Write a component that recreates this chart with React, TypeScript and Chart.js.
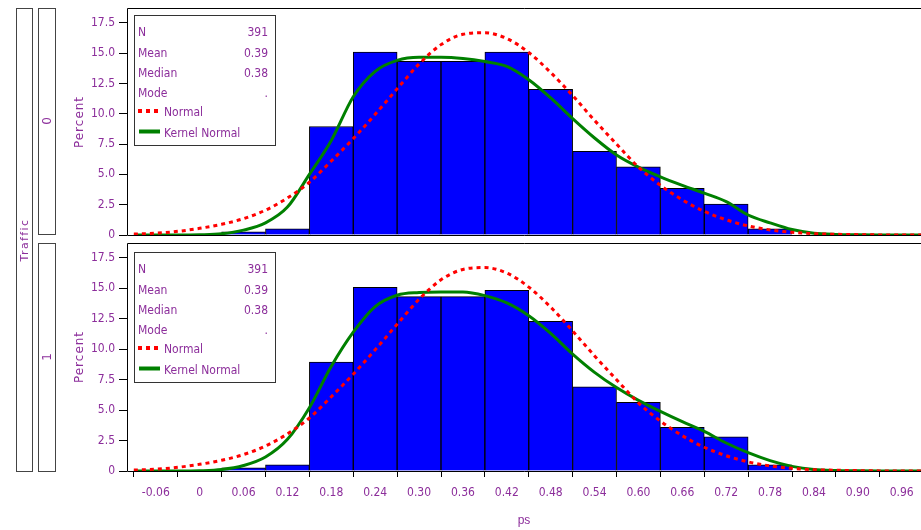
import React, { useEffect, useRef } from 'react';
import { Chart, registerables } from 'chart.js';

Chart.register(...registerables);

// ---------- data ----------
const BIN_CENTERS = [0.06, 0.12, 0.18, 0.24, 0.30, 0.36, 0.42, 0.48, 0.54, 0.60, 0.66, 0.72, 0.78];
const PCT_TRAFFIC0 = [0.26, 0.51, 8.95, 15.09, 14.32, 14.32, 15.09, 12.02, 6.91, 5.63, 3.84, 2.56, 0.51];
const PCT_TRAFFIC1 = [0.26, 0.51, 8.95, 15.09, 14.32, 14.32, 14.83, 12.28, 6.91, 5.63, 3.58, 2.81, 0.51];

const CURVE_X = [
  -0.09, -0.06, -0.03, 0, 0.03, 0.06, 0.09, 0.12, 0.15, 0.18, 0.21, 0.24, 0.27,
  0.30, 0.33, 0.36, 0.39, 0.42, 0.45, 0.48, 0.51, 0.54, 0.57, 0.60, 0.63, 0.66,
  0.69, 0.72, 0.75, 0.78, 0.81, 0.84, 0.87, 0.90, 0.93, 0.96, 0.99,
];
const NORMAL_TRAFFIC0 = [
  0.08, 0.15, 0.3, 0.55, 0.88, 1.35, 2.05, 3.05, 4.35, 6.1, 7.95, 9.95, 12.05,
  14.1, 15.7, 16.55, 16.68, 16.2, 15.05, 13.4, 11.5, 9.45, 7.5, 5.6, 4.1, 2.9,
  1.95, 1.25, 0.75, 0.42, 0.22, 0.11, 0.06, 0.03, 0.01, 0.01, 0.0,
];
const KERNEL_TRAFFIC0 = [
  0, 0, 0, 0.02, 0.1, 0.4, 1.0, 2.3, 5.0, 7.8, 11.4, 13.5, 14.4,
  14.65, 14.65, 14.55, 14.3, 13.9, 12.8, 11.3, 9.6, 8.0, 6.6, 5.6, 4.8, 4.1,
  3.45, 2.75, 1.65, 1.0, 0.45, 0.15, 0.05, 0.02, 0.01, 0.01, 0.01,
];
const NORMAL_TRAFFIC1 = [
  0.08, 0.15, 0.3, 0.55, 0.88, 1.35, 2.05, 3.05, 4.35, 6.1, 7.95, 9.95, 12.05,
  14.1, 15.7, 16.55, 16.7, 16.25, 15.1, 13.45, 11.5, 9.45, 7.5, 5.6, 4.1, 2.9,
  1.95, 1.25, 0.75, 0.42, 0.22, 0.11, 0.06, 0.03, 0.01, 0.01, 0.0,
];
const KERNEL_TRAFFIC1 = [
  0, 0, 0, 0.02, 0.12, 0.45, 1.15, 2.6, 5.2, 8.6, 11.4, 13.5, 14.43,
  14.65, 14.7, 14.7, 14.4, 13.8, 12.75, 11.3, 9.6, 8.1, 6.85, 5.8, 4.9, 4.05,
  3.25, 2.3, 1.5, 0.85, 0.38, 0.12, 0.04, 0.02, 0.01, 0.01, 0.01,
];

const X_TICKS = [-0.06, 0, 0.06, 0.12, 0.18, 0.24, 0.30, 0.36, 0.42, 0.48, 0.54, 0.60, 0.66, 0.72, 0.78, 0.84, 0.90, 0.96];
const Y_TICKS = [0, 2.5, 5.0, 7.5, 10.0, 12.5, 15.0, 17.5];
const X_MIN = -0.0994;
const X_MAX = 0.9864;
const Y_MAX = 18.72;

const STAT_LABELS = ['N', 'Mean', 'Median', 'Mode'];
const STATS_TRAFFIC0 = ['391', '0.39', '0.38', '.'];
const STATS_TRAFFIC1 = ['391', '0.39', '0.38', '.'];
const PANEL_LABELS = ['0', '1'];

// ---------- styles ----------
const PURPLE = '#8C2E9B';
const NARROW = "'Liberation Sans Narrow', 'DejaVu Sans Condensed', 'Liberation Sans', sans-serif";
const SANS = "'DejaVu Sans', 'Liberation Sans', sans-serif";

const framePlugin = {
  id: 'frame',
  beforeDatasetsDraw(chart: any) {
    const { ctx, chartArea } = chart;
    ctx.save();
    ctx.strokeStyle = '#000';
    ctx.lineWidth = 1;
    ctx.beginPath();
    ctx.moveTo(chartArea.right, Math.round(chartArea.top) + 0.5);
    ctx.lineTo(Math.round(chartArea.left) + 0.5, Math.round(chartArea.top) + 0.5);
    ctx.lineTo(Math.round(chartArea.left) + 0.5, Math.round(chartArea.bottom) + 0.5);
    ctx.lineTo(chartArea.right, Math.round(chartArea.bottom) + 0.5);
    ctx.stroke();
    ctx.restore();
  },
};

function insetPlugin(stats: string[], topOffset: number) {
  return {
    id: 'inset',
    afterDatasetsDraw(chart: any) {
      const { ctx, chartArea } = chart;
      const x0 = Math.round(chartArea.left) + 7;
      const y0 = Math.round(chartArea.top) + topOffset;
      const w = 141;
      const h = 130;
      ctx.save();
      ctx.fillStyle = '#fff';
      ctx.fillRect(x0, y0, w, h);
      ctx.strokeStyle = '#333';
      ctx.lineWidth = 1;
      ctx.strokeRect(x0 + 0.5, y0 + 0.5, w, h);
      ctx.font = `12px ${NARROW}`;
      ctx.fillStyle = PURPLE;
      ctx.textBaseline = 'middle';
      const rows = [18, 38.5, 59, 78.5, 98, 118.5];
      STAT_LABELS.forEach((lab, i) => {
        ctx.textAlign = 'left';
        ctx.fillText(lab, x0 + 4, y0 + rows[i]);
        ctx.textAlign = 'right';
        ctx.fillText(stats[i], x0 + 134, y0 + rows[i]);
      });
      ctx.strokeStyle = '#FF0000';
      ctx.lineWidth = 4;
      ctx.setLineDash([4, 4]);
      ctx.beginPath();
      ctx.moveTo(x0 + 4, y0 + rows[4] - 2);
      ctx.lineTo(x0 + 25, y0 + rows[4] - 2);
      ctx.stroke();
      ctx.setLineDash([]);
      ctx.strokeStyle = '#008000';
      ctx.beginPath();
      ctx.moveTo(x0 + 5, y0 + rows[5] - 2);
      ctx.lineTo(x0 + 26, y0 + rows[5] - 2);
      ctx.stroke();
      ctx.textAlign = 'left';
      ctx.fillText('Normal', x0 + 30, y0 + rows[4]);
      ctx.fillText('Kernel Normal', x0 + 30, y0 + rows[5]);
      ctx.restore();
    },
  };
}

function makeConfig(bars: number[], normal: number[], kernel: number[], stats: string[], isBottom: boolean): any {
  const xScale: any = {
    type: 'linear',
    min: X_MIN,
    max: X_MAX,
    offset: false,
    display: isBottom,
    grid: { display: true, drawOnChartArea: false, drawTicks: true, tickLength: 6, color: '#000' },
    border: { display: false },
    ticks: {
      color: PURPLE,
      font: { family: NARROW, size: 12 },
      padding: 9,
      maxRotation: 0,
      autoSkip: false,
      callback: (v: number) => (Math.abs(v) < 1e-9 ? '0' : v.toFixed(2)),
    },
    title: {
      display: true,
      text: 'ps',
      color: PURPLE,
      font: { family: "'Liberation Sans', Arial, sans-serif", size: 12 },
      padding: { top: 4, bottom: 2 },
    },
    afterBuildTicks: (s: any) => {
      s.ticks = X_TICKS.map((v) => ({ value: v }));
    },
  };
  if (isBottom) {
    xScale.afterFit = (s: any) => {
      s.height = 59;
      s.paddingLeft = 0;
      s.paddingRight = 0;
    };
  }
  return {
    type: 'bar',
    data: {
      datasets: [
        {
          type: 'line',
          label: 'Normal',
          data: CURVE_X.map((x, i) => ({ x, y: normal[i] })),
          borderColor: '#FF0000',
          borderWidth: 3,
          borderDash: [4, 4],
          pointRadius: 0,
          cubicInterpolationMode: 'monotone',
          order: 0,
        },
        {
          type: 'line',
          label: 'Kernel Normal',
          data: CURVE_X.map((x, i) => ({ x, y: kernel[i] })),
          borderColor: '#008000',
          borderWidth: 3,
          pointRadius: 0,
          cubicInterpolationMode: 'monotone',
          order: 1,
        },
        {
          type: 'bar',
          label: 'Percent',
          data: BIN_CENTERS.map((x, i) => ({ x, y: bars[i] })),
          backgroundColor: '#0000FF',
          borderColor: '#000',
          borderWidth: 1,
          barPercentage: 1,
          categoryPercentage: 1,
          order: 2,
        },
      ],
    },
    options: {
      responsive: false,
      animation: false,
      layout: { padding: { top: isBottom ? 3 : 8, bottom: isBottom ? 0 : 5, left: 0, right: 0 } },
      plugins: { legend: { display: false }, tooltip: { enabled: false } },
      scales: {
        x: xScale,
        y: {
          min: 0,
          max: Y_MAX,
          grid: { display: true, drawOnChartArea: false, drawTicks: true, tickLength: 8, color: '#000' },
          border: { display: false },
          ticks: {
            color: PURPLE,
            font: { family: NARROW, size: 12 },
            padding: 4,
            callback: (v: number) => (v === 0 ? '0' : v.toFixed(1)),
          },
          afterBuildTicks: (s: any) => {
            s.ticks = Y_TICKS.map((v) => ({ value: v }));
          },
          afterFit: (s: any) => {
            s.width = 127;
            s.paddingTop = 0;
            s.paddingBottom = 0;
          },
        },
      },
    },
    plugins: [framePlugin, insetPlugin(stats, isBottom ? 9 : 7)],
  };
}

const rotated = (text: string, x: number, y: number, extra: any) => (
  <div
    style={{
      position: 'absolute',
      left: x,
      top: y,
      transform: 'translate(-50%, -50%) rotate(-90deg)',
      whiteSpace: 'nowrap',
      color: PURPLE,
      lineHeight: '14px',
      ...extra,
    }}
  >
    {text}
  </div>
);

export default function App() {
  const topRef = useRef<HTMLCanvasElement>(null);
  const botRef = useRef<HTMLCanvasElement>(null);

  useEffect(() => {
    const c1 = new Chart(topRef.current as HTMLCanvasElement, makeConfig(PCT_TRAFFIC0, NORMAL_TRAFFIC0, KERNEL_TRAFFIC0, STATS_TRAFFIC0, false));
    const c2 = new Chart(botRef.current as HTMLCanvasElement, makeConfig(PCT_TRAFFIC1, NORMAL_TRAFFIC1, KERNEL_TRAFFIC1, STATS_TRAFFIC1, true));
    return () => {
      c1.destroy();
      c2.destroy();
    };
  }, []);

  const box = (left: number, top: number, width: number, height: number) => (
    <div
      style={{
        position: 'absolute',
        left,
        top,
        width,
        height,
        boxSizing: 'border-box',
        border: '1px solid #444',
      }}
    />
  );

  return (
    <div style={{ position: 'absolute', left: 0, top: 0, width: 921, height: 530, background: '#fff', overflow: 'hidden' }}>
      <canvas ref={topRef} width={921} height={240} style={{ position: 'absolute', left: 0, top: 0, width: 921, height: 240 }} />
      <canvas ref={botRef} width={921} height={290} style={{ position: 'absolute', left: 0, top: 240, width: 921, height: 290 }} />
      {box(16, 8, 17, 464)}
      {box(38, 8, 18, 227)}
      {box(38, 243, 18, 229)}
      {rotated('Traffic', 24, 240, { font: `11px ${SANS}`, letterSpacing: '1.4px' })}
      {rotated(PANEL_LABELS[0], 47, 121, { font: `12px ${SANS}` })}
      {rotated(PANEL_LABELS[1], 47, 357, { font: `12px ${SANS}` })}
      {rotated('Percent', 79, 122, { font: `12px ${SANS}`, letterSpacing: '1px' })}
      {rotated('Percent', 79, 357, { font: `12px ${SANS}`, letterSpacing: '1px' })}
    </div>
  );
}
